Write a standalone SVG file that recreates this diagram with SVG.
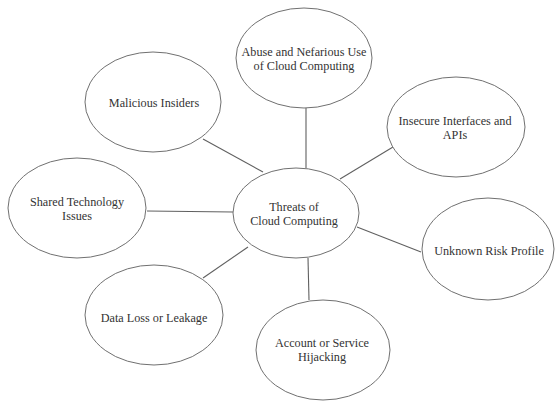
<svg xmlns="http://www.w3.org/2000/svg" width="555" height="401" viewBox="0 0 555 401">
<style>
.n ellipse{fill:#fff;stroke:#707070;stroke-width:1}
.n text{font-size:12.2px;fill:#333;text-anchor:middle}
.c line{stroke:#606060;stroke-width:1.1}
</style>
<rect width="555" height="401" fill="#fff"/>
<g class="c" id="connectors">
<line x1="203" y1="139" x2="263" y2="172"/>
<line x1="306" y1="108" x2="306" y2="168"/>
<line x1="393" y1="147" x2="340" y2="179"/>
<line x1="147" y1="211" x2="233" y2="212"/>
<line x1="357" y1="227" x2="421" y2="252"/>
<line x1="248" y1="247" x2="203" y2="278"/>
<line x1="308" y1="258" x2="309" y2="300"/>
</g>
<g font-family="Liberation Serif, Times New Roman, DejaVu Serif, serif">
<g class="n" id="center">
<ellipse cx="296" cy="213" rx="63" ry="45"/>
<text x="294" y="211">Threats of</text>
<text x="294" y="225">Cloud Computing</text>
</g>
<g class="n" id="abuse">
<ellipse cx="304" cy="58" rx="68" ry="50"/>
<text x="304" y="56">Abuse and Nefarious Use</text>
<text x="304" y="70">of Cloud Computing</text>
</g>
<g class="n" id="malicious">
<ellipse cx="153" cy="102" rx="68" ry="50"/>
<text x="154" y="107">Malicious Insiders</text>
</g>
<g class="n" id="insecure">
<ellipse cx="456" cy="127" rx="69" ry="50"/>
<text x="455" y="125">Insecure Interfaces and</text>
<text x="455" y="139">APIs</text>
</g>
<g class="n" id="shared">
<ellipse cx="77" cy="208" rx="69" ry="50"/>
<text x="77" y="206">Shared Technology</text>
<text x="77" y="220">Issues</text>
</g>
<g class="n" id="unknown">
<ellipse cx="488" cy="249" rx="66" ry="51"/>
<text x="489" y="255">Unknown Risk Profile</text>
</g>
<g class="n" id="dataloss">
<ellipse cx="154" cy="315" rx="69" ry="50"/>
<text x="154" y="322">Data Loss or Leakage</text>
</g>
<g class="n" id="account">
<ellipse cx="323" cy="350" rx="67" ry="50"/>
<text x="322" y="347">Account or Service</text>
<text x="322" y="361">Hijacking</text>
</g>
</g>
</svg>
